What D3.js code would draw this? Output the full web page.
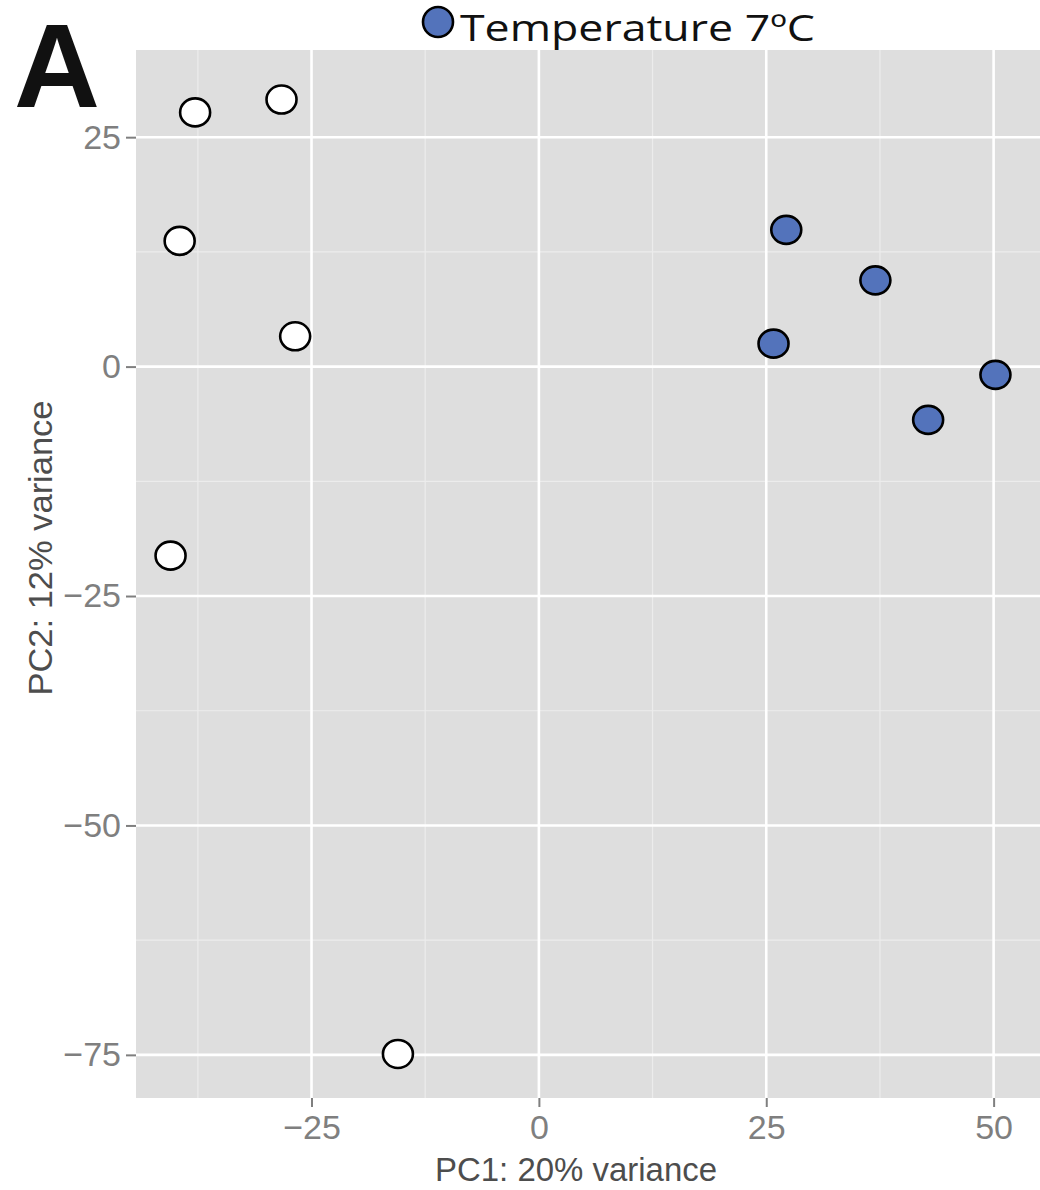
<!DOCTYPE html>
<html>
<head>
<meta charset="utf-8">
<script src="https://cdnjs.cloudflare.com/ajax/libs/d3/7.8.5/d3.min.js"></script>
<style>
  body { margin: 0; background: #fff; }
  svg { display: block; }
</style>
</head>
<body>
<div id="chart"></div>
<script>
// PCA scores
var pc1White = [-37.8, -28.3, -39.5, -26.8, -40.5, -15.5];
var pc2White = [27.7, 29.1, 13.7, 3.3, -20.6, -74.9];
var pc1Blue = [27.2, 37.0, 25.8, 50.2, 42.8];
var pc2Blue = [14.9, 9.4, 2.5, -0.9, -5.8];
var xTicks = [-25, 0, 25, 50];
var yTicks = [25, 0, -25, -50, -75];
var xMinor = [-37.5, -12.5, 12.5, 37.5];
var yMinor = [12.5, -12.5, -37.5, -62.5];
var legendLabel = "Temperature 7ºC";
var panelLabel = "A";
var xTitle = "PC1: 20% variance";
var yTitle = "PC2: 12% variance";

var width = 1040, height = 1190;
var panelLeft = 136, panelRight = 1040, panelTop = 50, panelBottom = 1098;
var blue = "#5373bb";
var panelBg = "#dedede";

var svg = d3.select("#chart").append("svg")
    .attr("width", width)
    .attr("height", height);

var x = d3.scaleLinear().domain([-44.3, 55.1]).range([panelLeft, panelRight]);
var y = d3.scaleLinear().domain([-79.7, 34.5]).range([panelBottom, panelTop]);

//panel
svg.append("rect")
    .attr("x", panelLeft).attr("y", panelTop)
    .attr("width", panelRight - panelLeft).attr("height", panelBottom - panelTop)
    .attr("fill", panelBg);

//minor grid
svg.selectAll("line.vminor").data(xMinor).enter().append("line")
    .attr("class", "vminor")
    .attr("x1", d => x(d)).attr("x2", d => x(d))
    .attr("y1", panelTop).attr("y2", panelBottom)
    .attr("stroke", "#ececec").attr("stroke-width", 1.2);
svg.selectAll("line.hminor").data(yMinor).enter().append("line")
    .attr("class", "hminor")
    .attr("y1", d => y(d)).attr("y2", d => y(d))
    .attr("x1", panelLeft).attr("x2", panelRight)
    .attr("stroke", "#ececec").attr("stroke-width", 1.2);

//major grid
svg.selectAll("line.vmajor").data(xTicks).enter().append("line")
    .attr("class", "vmajor")
    .attr("x1", d => x(d)).attr("x2", d => x(d))
    .attr("y1", panelTop).attr("y2", panelBottom)
    .attr("stroke", "#ffffff").attr("stroke-width", 2.6);
svg.selectAll("line.hmajor").data(yTicks).enter().append("line")
    .attr("class", "hmajor")
    .attr("y1", d => y(d)).attr("y2", d => y(d))
    .attr("x1", panelLeft).attr("x2", panelRight)
    .attr("stroke", "#ffffff").attr("stroke-width", 2.6);

//axes
var xAxis = svg.append("g")
    .attr("transform", "translate(0," + panelBottom + ")")
    .call(d3.axisBottom(x).tickValues(xTicks).tickSize(9).tickPadding(8));
var yAxis = svg.append("g")
    .attr("transform", "translate(" + panelLeft + ",0)")
    .call(d3.axisLeft(y).tickValues(yTicks).tickSize(10).tickPadding(5));

[xAxis, yAxis].forEach(function(g){
    g.select(".domain").remove();
    g.selectAll(".tick line").attr("stroke", "#7f7f7f").attr("stroke-width", 2);
    g.selectAll(".tick text")
        .attr("fill", "#7f7f7f")
        .attr("font-family", "Liberation Sans, Arial, sans-serif")
        .attr("font-size", "34px");
});
xAxis.selectAll(".tick text").attr("dy", "0.71em");

//points
var white = pc1White.map(function(v, i){ return {x: v, y: pc2White[i]}; });
var blues = pc1Blue.map(function(v, i){ return {x: v, y: pc2Blue[i]}; });

svg.selectAll("ellipse.white").data(white).enter().append("ellipse")
    .attr("class", "white")
    .attr("cx", d => x(d.x)).attr("cy", d => y(d.y))
    .attr("rx", 15).attr("ry", 14)
    .attr("fill", "#ffffff").attr("stroke", "#000").attr("stroke-width", 2.6);

svg.selectAll("ellipse.blue").data(blues).enter().append("ellipse")
    .attr("class", "blue")
    .attr("cx", d => x(d.x)).attr("cy", d => y(d.y))
    .attr("rx", 15).attr("ry", 14)
    .attr("fill", blue).attr("stroke", "#000").attr("stroke-width", 2.6);

//axis titles
svg.append("text")
    .attr("x", (435 + 717) / 2).attr("y", 1181)
    .attr("text-anchor", "middle")
    .attr("font-family", "Liberation Sans, Arial, sans-serif")
    .attr("font-size", "34px")
    .attr("fill", "#4d4d4d")
    .attr("textLength", 282).attr("lengthAdjust", "spacingAndGlyphs")
    .text(xTitle);

svg.append("text")
    .attr("transform", "translate(52,548) rotate(-90)")
    .attr("text-anchor", "middle")
    .attr("font-family", "Liberation Sans, Arial, sans-serif")
    .attr("font-size", "34px")
    .attr("fill", "#4d4d4d")
    .attr("textLength", 295).attr("lengthAdjust", "spacingAndGlyphs")
    .text(yTitle);

//legend
svg.append("ellipse")
    .attr("cx", 438).attr("cy", 22)
    .attr("rx", 15).attr("ry", 15)
    .attr("fill", blue).attr("stroke", "#000").attr("stroke-width", 2.6);
svg.append("text")
    .attr("x", 460).attr("y", 41)
    .attr("font-family", "Open Sans, Noto Sans, sans-serif")
    .attr("font-size", "37px")
    .attr("fill", "#111")
    .attr("textLength", 355).attr("lengthAdjust", "spacingAndGlyphs")
    .text(legendLabel);

//panel letter
svg.append("text")
    .attr("x", 14).attr("y", 107)
    .attr("font-family", "Liberation Sans, Arial, sans-serif")
    .attr("font-weight", "bold")
    .attr("font-size", "118px")
    .attr("fill", "#111")
    .attr("textLength", 86).attr("lengthAdjust", "spacingAndGlyphs")
    .text(panelLabel);
</script>
</body>
</html>
